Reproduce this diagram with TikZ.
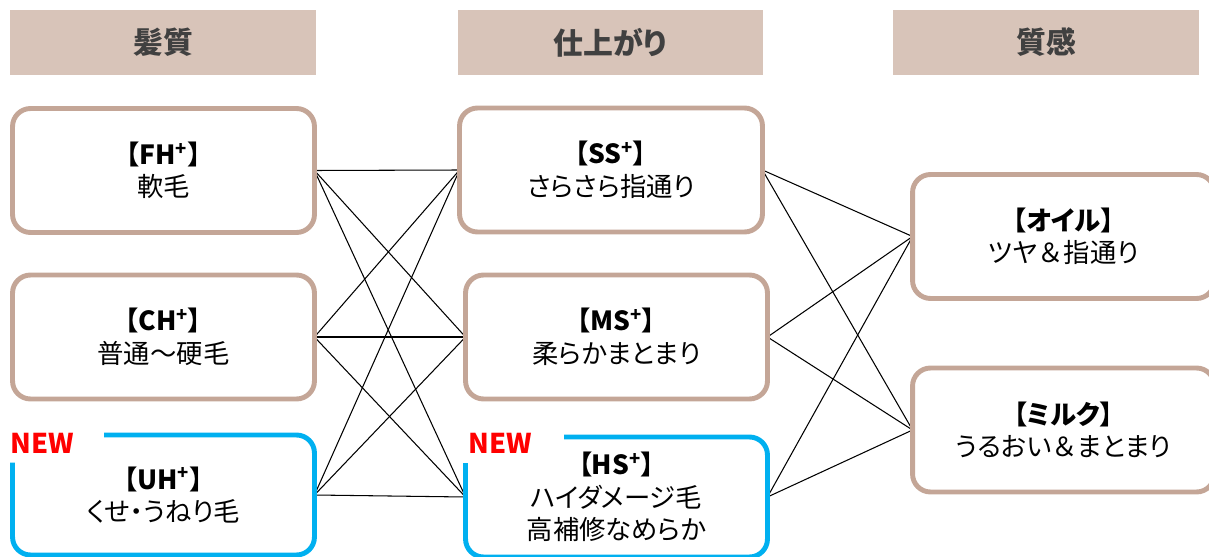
\documentclass[tikz,border=0pt]{standalone}
\usepackage{fontspec}
\setmainfont{Noto Sans CJK JP}[RawFeature=+palt]
\usetikzlibrary{calc,backgrounds}
\definecolor{headfill}{RGB}{216,196,185}
\definecolor{tanline}{RGB}{196,166,151}
\definecolor{newblue}{RGB}{0,176,240}
\definecolor{headtext}{RGB}{64,64,64}
\newcommand{\wideamp}{{\addfontfeature{RawFeature=-palt}＆}}

\begin{document}
\begin{tikzpicture}[x=0.02cm,y=-0.02cm,
    head/.style={fill=headfill,minimum width=6.12cm,minimum height=1.3cm,inner sep=0pt,text=headtext,font=\fontsize{17}{20}\selectfont\bfseries},
    box/.style={draw=tanline,fill=white,line width=2.8pt,rounded corners=0.36cm,minimum width=6.04cm,minimum height=2.48cm,inner sep=0pt,outer sep=0pt,align=center,font=\fontsize{15}{18.5}\selectfont},
    newbox/.style={box,draw=none,minimum height=2.4cm},
    newborder/.style={draw=newblue,line width=2.8pt,rounded corners=0.36cm},
    newlabel/.style={text=red,font=\fontsize{15.5}{17}\selectfont\bfseries,inner sep=0pt,anchor=west},
    link/.style={line width=0.6pt}]
    \useasboundingbox (0,0) rectangle (1209,557);
    \node[head] (hq) at (163,42.5) {髪質};
    \node[head] (sa) at (610.5,42.5) {仕上がり};
    \node[head] (sk) at (1046,42.5) {質感};
    \node[box] (fh) at (163.5,170.5) {\textbf{【FH\textsuperscript{+}】}\\軟毛};
    \node[box] (ch) at (163.5,337) {\textbf{【CH\textsuperscript{+}】}\\普通～硬毛};
    \node[newbox] (uh) at (163.5,495) {\textbf{【UH\textsuperscript{+}】}\\くせ・うねり毛};
    \node[box,minimum width=6.06cm] (ss) at (611,170) {\textbf{【SS\textsuperscript{+}】}\\さらさら指通り};
    \node[box] (ms) at (616.5,337) {\textbf{【MS\textsuperscript{+}】}\\柔らかまとまり};
    \node[newbox] (hs) at (616.5,497) {\textbf{【HS\textsuperscript{+}】}\\ハイダメージ毛\\高補修なめらか};
    \node[box] (oil) at (1063.5,236.5) {\textbf{【オイル】}\\ツヤ\wideamp 指通り};
    \node[box] (milk) at (1063.5,430) {\textbf{【ミルク】}\\うるおい\wideamp まとまり};
    \draw[newborder] ($(uh.north west)+(91.5,0)$) -- (uh.north east) -- (uh.south east) -- (uh.south west) -- ($(uh.north west)+(0,27.5)$);
    \draw[newborder] ($(hs.north west)+(98.5,0)$) -- (hs.north east) -- (hs.south east) -- (hs.south west) -- ($(hs.north west)+(0,26)$);
    \node[newlabel] (newuh) at (10,443) {NEW};
    \node[newlabel] (newhs) at (468,443) {NEW};
    \begin{scope}[on background layer]
    \draw[link] (fh.east) -- (ss.west);
    \draw[link] (fh.east) -- (ms.west);
    \draw[link] (fh.east) -- (hs.west);
    \draw[link] (ch.east) -- (ss.west);
    \draw[link] (ch.east) -- (ms.west);
    \draw[link] (ch.east) -- (hs.west);
    \draw[link] (uh.east) -- (ss.west);
    \draw[link] (uh.east) -- (ms.west);
    \draw[link] (uh.east) -- (hs.west);
    \draw[link] (ss.east) -- (oil.west);
    \draw[link] (ss.east) -- (milk.west);
    \draw[link] (ms.east) -- (oil.west);
    \draw[link] (ms.east) -- (milk.west);
    \draw[link] (hs.east) -- (oil.west);
    \draw[link] (hs.east) -- (milk.west);
    \end{scope}
\end{tikzpicture}
\end{document}
